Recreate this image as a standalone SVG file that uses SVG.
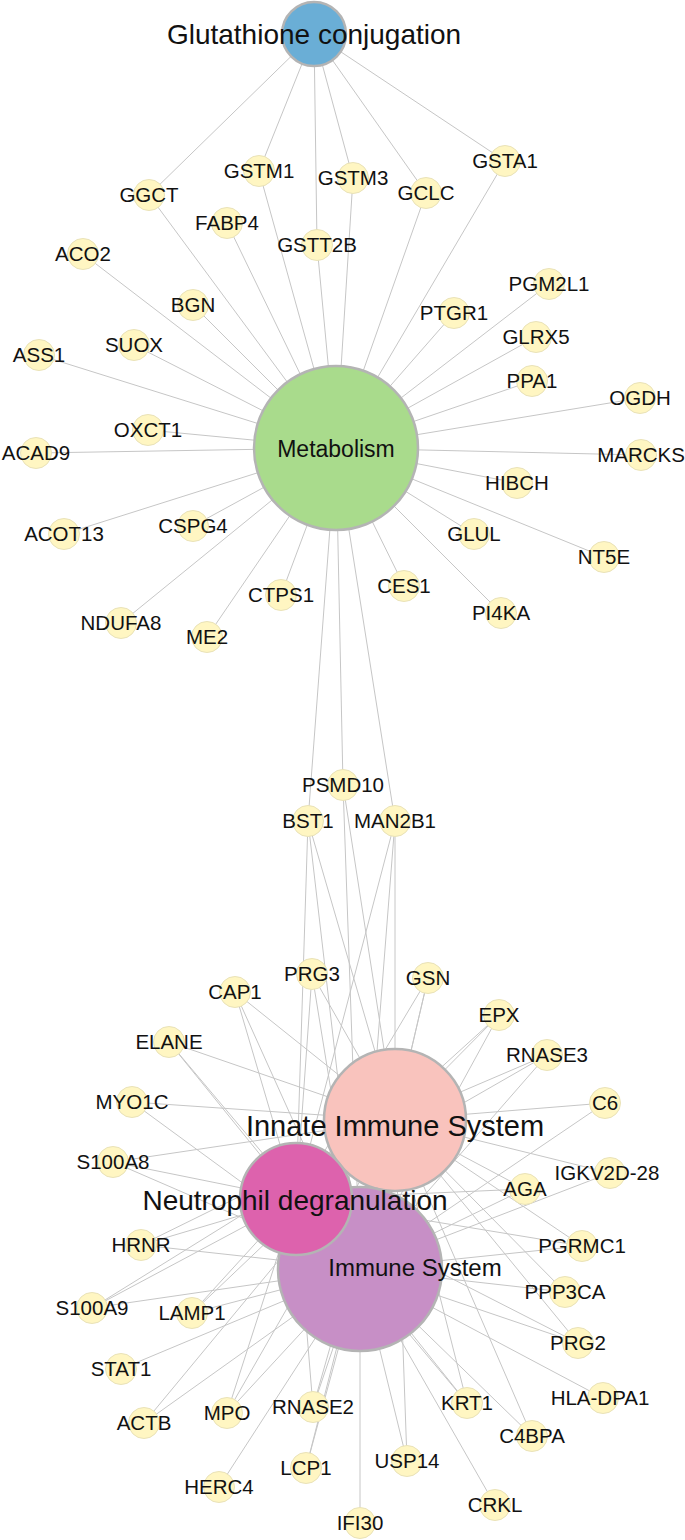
<svg xmlns="http://www.w3.org/2000/svg" width="685" height="1540" viewBox="0 0 685 1540">
<style>
.e line{stroke:#c6c6c6;stroke-width:1}
.n circle{fill:#fff6c2;stroke:#e9e2b8;stroke-width:1}
text{font-family:"Liberation Sans",Arial,sans-serif;text-anchor:middle;fill:#111}
.n text{font-size:20.5px}
.b circle{stroke:#b4b4b4;stroke-width:2.5}
</style>
<rect width="685" height="1540" fill="#ffffff"/>
<g id="connectors" class="e">
<!-- Glutathione -->
<line x1="314" y1="34" x2="149" y2="195"/>
<line x1="314" y1="34" x2="259" y2="171"/>
<line x1="314" y1="34" x2="317" y2="245"/>
<line x1="314" y1="34" x2="353" y2="178"/>
<line x1="314" y1="34" x2="426" y2="193"/>
<line x1="314" y1="34" x2="505" y2="161"/>
<!-- Metabolism -->
<line x1="336" y1="448" x2="149" y2="195"/>
<line x1="336" y1="448" x2="259" y2="171"/>
<line x1="336" y1="448" x2="353" y2="178"/>
<line x1="336" y1="448" x2="426" y2="193"/>
<line x1="336" y1="448" x2="505" y2="161"/>
<line x1="336" y1="448" x2="227" y2="223"/>
<line x1="336" y1="448" x2="317" y2="245"/>
<line x1="336" y1="448" x2="83" y2="254"/>
<line x1="336" y1="448" x2="193" y2="305"/>
<line x1="336" y1="448" x2="134" y2="345"/>
<line x1="336" y1="448" x2="39" y2="355"/>
<line x1="336" y1="448" x2="148" y2="430"/>
<line x1="336" y1="448" x2="36" y2="453"/>
<line x1="336" y1="448" x2="64" y2="534"/>
<line x1="336" y1="448" x2="193" y2="526"/>
<line x1="336" y1="448" x2="121" y2="623"/>
<line x1="336" y1="448" x2="207" y2="637"/>
<line x1="336" y1="448" x2="281" y2="595"/>
<line x1="336" y1="448" x2="404" y2="586"/>
<line x1="336" y1="448" x2="501" y2="613"/>
<line x1="336" y1="448" x2="474" y2="534"/>
<line x1="336" y1="448" x2="604" y2="557"/>
<line x1="336" y1="448" x2="517" y2="483"/>
<line x1="336" y1="448" x2="641" y2="455"/>
<line x1="336" y1="448" x2="640" y2="398"/>
<line x1="336" y1="448" x2="532" y2="381"/>
<line x1="336" y1="448" x2="536" y2="337"/>
<line x1="336" y1="448" x2="549" y2="284"/>
<line x1="336" y1="448" x2="454" y2="313"/>
<line x1="336" y1="448" x2="343" y2="785"/>
<line x1="336" y1="448" x2="308" y2="821"/>
<line x1="336" y1="448" x2="395" y2="821"/>
<!-- BST1 / PSMD10 / MAN2B1 -->
<line x1="308" y1="821" x2="296" y2="1199"/>
<line x1="308" y1="821" x2="395" y2="1120"/>
<line x1="308" y1="821" x2="360" y2="1269"/>
<line x1="343" y1="785" x2="395" y2="1120"/>
<line x1="343" y1="785" x2="360" y2="1269"/>
<line x1="395" y1="821" x2="296" y2="1199"/>
<line x1="395" y1="821" x2="395" y2="1120"/>
<line x1="395" y1="821" x2="360" y2="1269"/>
<!-- N, I, S members -->
<line x1="312" y1="974" x2="296" y2="1199"/>
<line x1="312" y1="974" x2="395" y2="1120"/>
<line x1="312" y1="974" x2="360" y2="1269"/>
<line x1="235" y1="992" x2="296" y2="1199"/>
<line x1="235" y1="992" x2="395" y2="1120"/>
<line x1="235" y1="992" x2="360" y2="1269"/>
<line x1="428" y1="978" x2="296" y2="1199"/>
<line x1="428" y1="978" x2="395" y2="1120"/>
<line x1="428" y1="978" x2="360" y2="1269"/>
<line x1="499" y1="1015" x2="296" y2="1199"/>
<line x1="499" y1="1015" x2="395" y2="1120"/>
<line x1="499" y1="1015" x2="360" y2="1269"/>
<line x1="169" y1="1042" x2="296" y2="1199"/>
<line x1="169" y1="1042" x2="395" y2="1120"/>
<line x1="169" y1="1042" x2="360" y2="1269"/>
<line x1="547" y1="1055" x2="296" y2="1199"/>
<line x1="547" y1="1055" x2="395" y2="1120"/>
<line x1="547" y1="1055" x2="360" y2="1269"/>
<line x1="132" y1="1102" x2="395" y2="1120"/>
<line x1="132" y1="1102" x2="360" y2="1269"/>
<line x1="605" y1="1103" x2="395" y2="1120"/>
<line x1="605" y1="1103" x2="360" y2="1269"/>
<line x1="113" y1="1162" x2="296" y2="1199"/>
<line x1="113" y1="1162" x2="395" y2="1120"/>
<line x1="113" y1="1162" x2="360" y2="1269"/>
<line x1="610" y1="1173" x2="395" y2="1120"/>
<line x1="610" y1="1173" x2="360" y2="1269"/>
<line x1="525" y1="1189" x2="296" y2="1199"/>
<line x1="525" y1="1189" x2="395" y2="1120"/>
<line x1="525" y1="1189" x2="360" y2="1269"/>
<line x1="141" y1="1245" x2="296" y2="1199"/>
<line x1="141" y1="1245" x2="395" y2="1120"/>
<line x1="141" y1="1245" x2="360" y2="1269"/>
<line x1="582" y1="1246" x2="296" y2="1199"/>
<line x1="582" y1="1246" x2="395" y2="1120"/>
<line x1="582" y1="1246" x2="360" y2="1269"/>
<line x1="565" y1="1292" x2="395" y2="1120"/>
<line x1="565" y1="1292" x2="360" y2="1269"/>
<line x1="92" y1="1308" x2="296" y2="1199"/>
<line x1="92" y1="1308" x2="395" y2="1120"/>
<line x1="92" y1="1308" x2="360" y2="1269"/>
<line x1="192" y1="1313" x2="296" y2="1199"/>
<line x1="192" y1="1313" x2="395" y2="1120"/>
<line x1="192" y1="1313" x2="360" y2="1269"/>
<line x1="578" y1="1343" x2="296" y2="1199"/>
<line x1="578" y1="1343" x2="395" y2="1120"/>
<line x1="578" y1="1343" x2="360" y2="1269"/>
<line x1="121" y1="1369" x2="360" y2="1269"/>
<line x1="603" y1="1398" x2="360" y2="1269"/>
<line x1="467" y1="1403" x2="296" y2="1199"/>
<line x1="467" y1="1403" x2="395" y2="1120"/>
<line x1="467" y1="1403" x2="360" y2="1269"/>
<line x1="313" y1="1407" x2="296" y2="1199"/>
<line x1="313" y1="1407" x2="395" y2="1120"/>
<line x1="313" y1="1407" x2="360" y2="1269"/>
<line x1="227" y1="1413" x2="296" y2="1199"/>
<line x1="227" y1="1413" x2="395" y2="1120"/>
<line x1="227" y1="1413" x2="360" y2="1269"/>
<line x1="144" y1="1423" x2="395" y2="1120"/>
<line x1="144" y1="1423" x2="360" y2="1269"/>
<line x1="532" y1="1436" x2="395" y2="1120"/>
<line x1="532" y1="1436" x2="360" y2="1269"/>
<line x1="407" y1="1461" x2="395" y2="1120"/>
<line x1="407" y1="1461" x2="360" y2="1269"/>
<line x1="306" y1="1468" x2="395" y2="1120"/>
<line x1="306" y1="1468" x2="360" y2="1269"/>
<line x1="219" y1="1487" x2="360" y2="1269"/>
<line x1="495" y1="1505" x2="360" y2="1269"/>
<line x1="360" y1="1523" x2="360" y2="1269"/>
</g>
<g id="n-GGCT" class="n"><circle cx="149" cy="195" r="15.5"/><text x="149" y="202.3">GGCT</text></g>
<g id="n-GSTM1" class="n"><circle cx="259" cy="171" r="15.5"/><text x="259" y="178.3">GSTM1</text></g>
<g id="n-GSTM3" class="n"><circle cx="353" cy="178" r="15.5"/><text x="353" y="185.3">GSTM3</text></g>
<g id="n-GCLC" class="n"><circle cx="426" cy="193" r="15.5"/><text x="426" y="200.3">GCLC</text></g>
<g id="n-GSTA1" class="n"><circle cx="505" cy="161" r="15.5"/><text x="505" y="168.3">GSTA1</text></g>
<g id="n-FABP4" class="n"><circle cx="227" cy="223" r="15.5"/><text x="227" y="230.3">FABP4</text></g>
<g id="n-GSTT2B" class="n"><circle cx="317" cy="245" r="15.5"/><text x="317" y="252.3">GSTT2B</text></g>
<g id="n-ACO2" class="n"><circle cx="83" cy="254" r="15.5"/><text x="83" y="261.3">ACO2</text></g>
<g id="n-BGN" class="n"><circle cx="193" cy="305" r="15.5"/><text x="193" y="312.3">BGN</text></g>
<g id="n-SUOX" class="n"><circle cx="134" cy="345" r="15.5"/><text x="134" y="352.3">SUOX</text></g>
<g id="n-ASS1" class="n"><circle cx="39" cy="355" r="15.5"/><text x="39" y="362.3">ASS1</text></g>
<g id="n-OXCT1" class="n"><circle cx="148" cy="430" r="15.5"/><text x="148" y="437.3">OXCT1</text></g>
<g id="n-ACAD9" class="n"><circle cx="36" cy="453" r="15.5"/><text x="36" y="460.3">ACAD9</text></g>
<g id="n-ACOT13" class="n"><circle cx="64" cy="534" r="15.5"/><text x="64" y="541.3">ACOT13</text></g>
<g id="n-CSPG4" class="n"><circle cx="193" cy="526" r="15.5"/><text x="193" y="533.3">CSPG4</text></g>
<g id="n-NDUFA8" class="n"><circle cx="121" cy="623" r="15.5"/><text x="121" y="630.3">NDUFA8</text></g>
<g id="n-ME2" class="n"><circle cx="207" cy="637" r="15.5"/><text x="207" y="644.3">ME2</text></g>
<g id="n-CTPS1" class="n"><circle cx="281" cy="595" r="15.5"/><text x="281" y="602.3">CTPS1</text></g>
<g id="n-CES1" class="n"><circle cx="404" cy="586" r="15.5"/><text x="404" y="593.3">CES1</text></g>
<g id="n-PI4KA" class="n"><circle cx="501" cy="613" r="15.5"/><text x="501" y="620.3">PI4KA</text></g>
<g id="n-GLUL" class="n"><circle cx="474" cy="534" r="15.5"/><text x="474" y="541.3">GLUL</text></g>
<g id="n-NT5E" class="n"><circle cx="604" cy="557" r="15.5"/><text x="604" y="564.3">NT5E</text></g>
<g id="n-HIBCH" class="n"><circle cx="517" cy="483" r="15.5"/><text x="517" y="490.3">HIBCH</text></g>
<g id="n-MARCKS" class="n"><circle cx="641" cy="455" r="15.5"/><text x="641" y="462.3">MARCKS</text></g>
<g id="n-OGDH" class="n"><circle cx="640" cy="398" r="15.5"/><text x="640" y="405.3">OGDH</text></g>
<g id="n-PPA1" class="n"><circle cx="532" cy="381" r="15.5"/><text x="532" y="388.3">PPA1</text></g>
<g id="n-GLRX5" class="n"><circle cx="536" cy="337" r="15.5"/><text x="536" y="344.3">GLRX5</text></g>
<g id="n-PGM2L1" class="n"><circle cx="549" cy="284" r="15.5"/><text x="549" y="291.3">PGM2L1</text></g>
<g id="n-PTGR1" class="n"><circle cx="454" cy="313" r="15.5"/><text x="454" y="320.3">PTGR1</text></g>
<g id="n-PSMD10" class="n"><circle cx="343" cy="785" r="15.5"/><text x="343" y="792.3">PSMD10</text></g>
<g id="n-BST1" class="n"><circle cx="308" cy="821" r="15.5"/><text x="308" y="828.3">BST1</text></g>
<g id="n-MAN2B1" class="n"><circle cx="395" cy="821" r="15.5"/><text x="395" y="828.3">MAN2B1</text></g>
<g id="n-PRG3" class="n"><circle cx="312" cy="974" r="15.5"/><text x="312" y="981.3">PRG3</text></g>
<g id="n-CAP1" class="n"><circle cx="235" cy="992" r="15.5"/><text x="235" y="999.3">CAP1</text></g>
<g id="n-GSN" class="n"><circle cx="428" cy="978" r="15.5"/><text x="428" y="985.3">GSN</text></g>
<g id="n-EPX" class="n"><circle cx="499" cy="1015" r="15.5"/><text x="499" y="1022.3">EPX</text></g>
<g id="n-ELANE" class="n"><circle cx="169" cy="1042" r="15.5"/><text x="169" y="1049.3">ELANE</text></g>
<g id="n-RNASE3" class="n"><circle cx="547" cy="1055" r="15.5"/><text x="547" y="1062.3">RNASE3</text></g>
<g id="n-MYO1C" class="n"><circle cx="132" cy="1102" r="15.5"/><text x="132" y="1109.3">MYO1C</text></g>
<g id="n-C6" class="n"><circle cx="605" cy="1103" r="15.5"/><text x="605" y="1110.3">C6</text></g>
<g id="n-S100A8" class="n"><circle cx="113" cy="1162" r="15.5"/><text x="113" y="1169.3">S100A8</text></g>
<g id="n-IGKV2D-28" class="n"><circle cx="610" cy="1173" r="15.5"/><text x="607" y="1180.3">IGKV2D-28</text></g>
<g id="n-AGA" class="n"><circle cx="525" cy="1189" r="15.5"/><text x="525" y="1196.3">AGA</text></g>
<g id="n-HRNR" class="n"><circle cx="141" cy="1245" r="15.5"/><text x="141" y="1252.3">HRNR</text></g>
<g id="n-PGRMC1" class="n"><circle cx="582" cy="1246" r="15.5"/><text x="582" y="1253.3">PGRMC1</text></g>
<g id="n-PPP3CA" class="n"><circle cx="565" cy="1292" r="15.5"/><text x="565" y="1299.3">PPP3CA</text></g>
<g id="n-S100A9" class="n"><circle cx="92" cy="1308" r="15.5"/><text x="92" y="1315.3">S100A9</text></g>
<g id="n-LAMP1" class="n"><circle cx="192" cy="1313" r="15.5"/><text x="192" y="1320.3">LAMP1</text></g>
<g id="n-PRG2" class="n"><circle cx="578" cy="1343" r="15.5"/><text x="578" y="1350.3">PRG2</text></g>
<g id="n-STAT1" class="n"><circle cx="121" cy="1369" r="15.5"/><text x="121" y="1376.3">STAT1</text></g>
<g id="n-HLA-DPA1" class="n"><circle cx="603" cy="1398" r="15.5"/><text x="600" y="1405.3">HLA-DPA1</text></g>
<g id="n-KRT1" class="n"><circle cx="467" cy="1403" r="15.5"/><text x="467" y="1410.3">KRT1</text></g>
<g id="n-RNASE2" class="n"><circle cx="313" cy="1407" r="15.5"/><text x="313" y="1414.3">RNASE2</text></g>
<g id="n-MPO" class="n"><circle cx="227" cy="1413" r="15.5"/><text x="227" y="1420.3">MPO</text></g>
<g id="n-ACTB" class="n"><circle cx="144" cy="1423" r="15.5"/><text x="144" y="1430.3">ACTB</text></g>
<g id="n-C4BPA" class="n"><circle cx="532" cy="1436" r="15.5"/><text x="532" y="1443.3">C4BPA</text></g>
<g id="n-USP14" class="n"><circle cx="407" cy="1461" r="15.5"/><text x="407" y="1468.3">USP14</text></g>
<g id="n-LCP1" class="n"><circle cx="306" cy="1468" r="15.5"/><text x="306" y="1475.3">LCP1</text></g>
<g id="n-HERC4" class="n"><circle cx="219" cy="1487" r="15.5"/><text x="219" y="1494.3">HERC4</text></g>
<g id="n-CRKL" class="n"><circle cx="495" cy="1505" r="15.5"/><text x="495" y="1512.3">CRKL</text></g>
<g id="n-IFI30" class="n"><circle cx="360" cy="1523" r="15.5"/><text x="360" y="1530.3">IFI30</text></g>
<g id="n-Glutathione" class="b"><circle cx="314" cy="34" r="32" fill="#6aaed6"/></g>
<g id="n-Metabolism" class="b"><circle cx="336" cy="448" r="82" fill="#a9db8c"/></g>
<g id="n-Innate" class="b"><circle cx="395" cy="1120" r="71" fill="#f9c3bd"/></g>
<g id="n-Immune" class="b"><circle cx="360" cy="1269" r="82" fill="#c78fc6"/></g>
<g id="n-Neutrophil" class="b"><circle cx="296" cy="1199" r="56" fill="#dd62ad"/></g>
<g id="big-labels">
<text x="314" y="44" font-size="28">Glutathione conjugation</text>
<text x="336" y="457" font-size="23">Metabolism</text>
<text x="395" y="1136" font-size="29">Innate Immune System</text>
<text x="295" y="1210" font-size="28">Neutrophil degranulation</text>
<text x="415" y="1276" font-size="24">Immune System</text>
</g>
</svg>
